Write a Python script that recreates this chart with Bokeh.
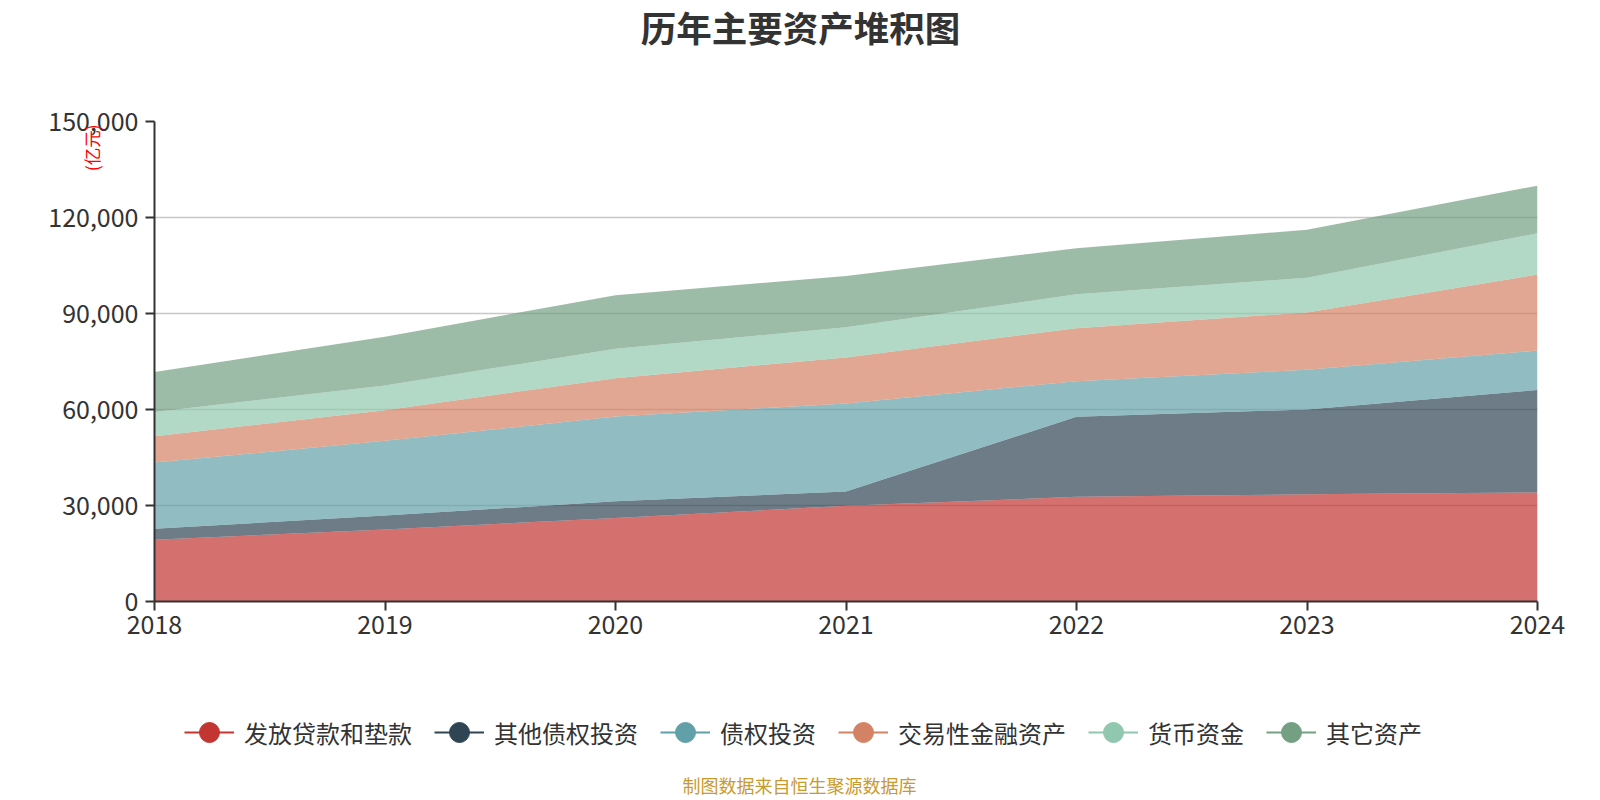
from bokeh.plotting import figure
from bokeh.layouts import column
from bokeh.models import (ColumnDataSource, Legend, LegendItem, Label, FixedTicker,
                          NumeralTickFormatter, Range1d)
from bokeh.embed import file_html
from bokeh.resources import INLINE

years = [2018, 2019, 2020, 2021, 2022, 2023, 2024]
series_names = ["发放贷款和垫款", "其他债权投资", "债权投资", "交易性金融资产", "货币资金", "其它资产"]
loans = [19300, 22500, 26100, 29900, 32700, 33500, 34100]
other_debt = [3400, 4400, 5200, 4500, 25000, 26500, 32000]
debt_inv = [20700, 23300, 26500, 27500, 11150, 12450, 12300]
trading = [8250, 9600, 11970, 14370, 16570, 17870, 23750]
cash = [7600, 7700, 9200, 9400, 10600, 10850, 12900]
others = [12500, 15200, 16760, 16060, 14400, 15000, 14900]
y_ticks = [0, 30000, 60000, 90000, 120000, 150000]

colors = ["#c23531", "#2f4554", "#61a0a8", "#d48265", "#91c7ae", "#749f83"]
FONT = "Noto Sans CJK SC"
W = 1592
FRAME_LEFT = 154


def blank(h):
    f = figure(width=W, height=h, output_backend="svg", toolbar_location=None,
               x_range=Range1d(0, 1), y_range=Range1d(0, 1),
               x_axis_location=None, y_axis_location=None,
               min_border_left=0, min_border_right=0, min_border_top=0, min_border_bottom=0)
    f.grid.visible = False
    f.outline_line_color = None
    return f


# ---- title strip ----
top = blank(60)
top.add_layout(Label(x=800 - FRAME_LEFT, y=34, x_units="screen", y_units="screen",
                     text="历年主要资产堆积图",
                     text_align="center", text_baseline="middle", text_font=FONT,
                     text_font_size="35.5px", text_font_style="bold", text_color="#333333"))

# ---- main chart ----
data = {"year": years}
for n, v in zip(series_names, [loans, other_debt, debt_inv, trading, cash, others]):
    data[n] = v
source = ColumnDataSource(data)

p = figure(width=W, height=591, output_backend="svg", toolbar_location=None,
           x_range=Range1d(2018, 2024), y_range=Range1d(0, 150000),
           min_border_left=FRAME_LEFT, min_border_right=55, min_border_top=61, min_border_bottom=50)
p.outline_line_color = None
p.varea_stack(stackers=series_names, x="year", color=colors, fill_alpha=0.7, source=source)

p.xaxis.ticker = FixedTicker(ticks=years)
p.yaxis.ticker = FixedTicker(ticks=y_ticks)
p.yaxis.formatter = NumeralTickFormatter(format="0,0")
for ax in (p.xaxis[0], p.yaxis[0]):
    ax.axis_line_color = "#333333"
    ax.axis_line_width = 2
    ax.major_tick_line_color = "#333333"
    ax.major_tick_line_width = 2
    ax.major_tick_out = 9
    ax.major_tick_in = 0
    ax.minor_tick_line_color = None
    ax.major_label_text_font = FONT
    ax.major_label_text_font_size = "25px"
    ax.major_label_text_color = "#333333"
p.yaxis.major_label_standoff = 7
p.xaxis.major_label_standoff = 4

yax = p.yaxis[0]
yax.axis_label = "(亿元)\u3000\u3000\u3000"
yax.axis_label_text_font = FONT
yax.axis_label_text_font_size = "17.5px"
yax.axis_label_text_font_style = "normal"
yax.axis_label_text_color = "#ff0000"
yax.axis_label_standoff = -59
try:
    yax.axis_label_align = "end"
except Exception:
    try:
        yax.axis_label_align = "right"
    except Exception:
        pass

p.xgrid.grid_line_color = None
p.ygrid.ticker = FixedTicker(ticks=y_ticks[1:])
p.ygrid.grid_line_color = "#c8c8c8"
p.ygrid.grid_line_width = 1.5

# ---- legend + footer strip ----
bot = blank(145)
items = []
for n, c in zip(series_names, colors):
    # legend swatches: same series data, lying outside this strip's ranges
    lr = bot.line(x="year", y=n, source=source, line_color=c, line_width=2)
    sr = bot.scatter(x="year", y=n, source=source, marker="circle", size=20,
                     fill_color=c, line_color=c)
    items.append(LegendItem(label=n, renderers=[lr, sr]))
legend = Legend(items=items, orientation="horizontal", location=(184 - FRAME_LEFT, 37),
                glyph_width=50, glyph_height=54, label_standoff=10, spacing=22,
                padding=0, margin=0, border_line_alpha=0, background_fill_alpha=0,
                label_text_font=FONT, label_text_font_size="24px",
                label_text_color="#333333", label_text_baseline="middle")
bot.add_layout(legend, "center")
bot.add_layout(Label(x=799 - FRAME_LEFT, y=12, x_units="screen", y_units="screen",
                     text="制图数据来自恒生聚源数据库",
                     text_align="center", text_baseline="middle", text_font=FONT,
                     text_font_size="18px", text_color="#c99a2e"))

layout = column(top, p, bot, spacing=0)
open("out.html", "w").write(file_html(layout, INLINE))
